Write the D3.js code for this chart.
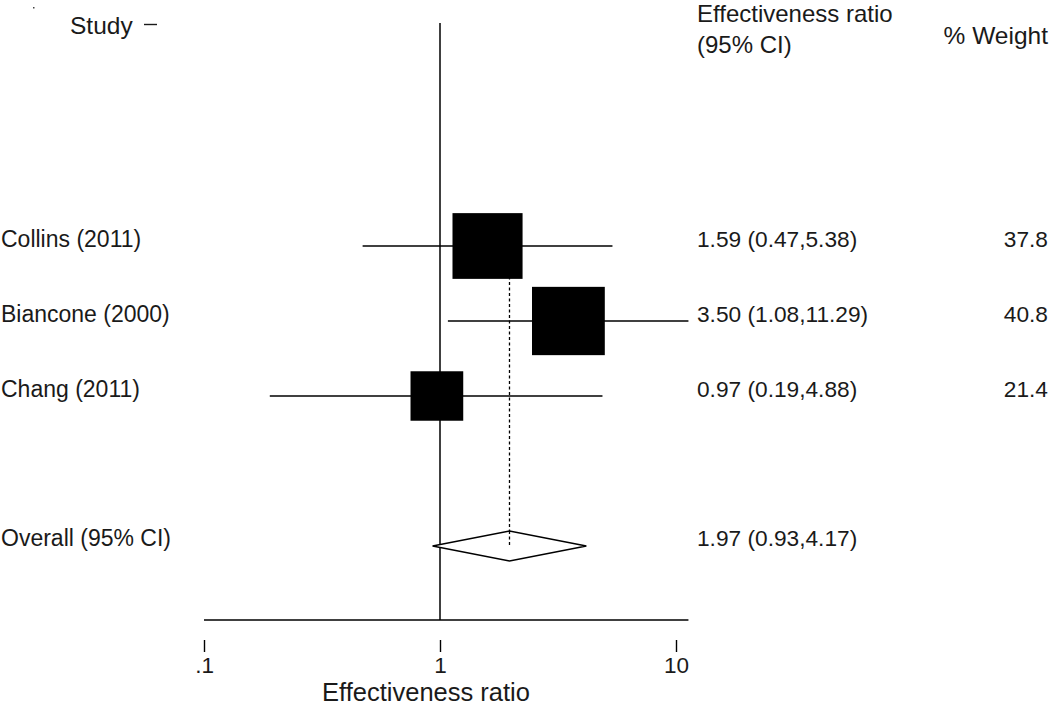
<!DOCTYPE html>
<html>
<head>
<meta charset="utf-8">
<script src="https://cdn.jsdelivr.net/npm/d3@7"></script>
<style>
  html, body { margin: 0; padding: 0; background: #fff; }
  svg { display: block; }
  text { font-family: "Liberation Sans", Arial, sans-serif; fill: #1a1a1a; }
</style>
</head>
<body>
<svg id="chart" width="1050" height="707"></svg>
<script>
// ---- data ----
const studies = ["Collins (2011)", "Biancone (2000)", "Chang (2011)"];
const estimates = [1.59, 3.50, 0.97];
const lowers = [0.47, 1.08, 0.19];
const uppers = [5.38, 11.29, 4.88];
const weights = [37.8, 40.8, 21.4];
const ciLabels = ["1.59 (0.47,5.38)", "3.50 (1.08,11.29)", "0.97 (0.19,4.88)"];
const overallLabel = "Overall (95% CI)";
const overall = { est: 1.97, lo: 0.93, hi: 4.17, text: "1.97 (0.93,4.17)" };
const tickValues = [0.1, 1, 10];
const tickLabels = [".1", "1", "10"];
const studyRows = [3, 4, 5];
const overallRow = 7;

// ---- scales ----
const svg = d3.select("#chart");
const x = d3.scaleLog().domain([0.1, 10]).range([204, 676]);
const y = d3.scaleLinear().domain([0, 1]).range([21, 96]); // 75px per row
const wScale = d3.scaleSqrt().domain([0, d3.max(weights)]).range([0, 72.8]);
const hScale = d3.scaleSqrt().domain([0, d3.max(weights)]).range([0, 68.3]);

const axisY = 620;
const textX = 697;

// tiny corner dot
svg.append("rect").attr("x", 33).attr("y", 7).attr("width", 1.5).attr("height", 1.5).attr("fill", "#444");

// headers
svg.append("text").attr("x", 70).attr("y", 34).style("font-size", "24.5px").text("Study");
svg.append("line").attr("x1", 144).attr("x2", 157).attr("y1", 24.5).attr("y2", 24.5)
  .attr("stroke", "#1a1a1a").attr("stroke-width", 1.4);
svg.append("text").attr("x", textX).attr("y", 22).style("font-size", "24px").text("Effectiveness ratio");
svg.append("text").attr("x", textX).attr("y", 53).style("font-size", "24px").text("(95% CI)");
svg.append("text").attr("x", 1048).attr("y", 44).attr("text-anchor", "end").style("font-size", "24.5px").text("% Weight");

// dashed overall line
svg.append("line")
  .attr("x1", x(overall.est)).attr("x2", x(overall.est))
  .attr("y1", y(studyRows[0]) - 30).attr("y2", y(overallRow))
  .attr("stroke", "#000").attr("stroke-width", 1.3).attr("stroke-dasharray", "3,2.5");

// null line
svg.append("line").attr("x1", x(1)).attr("x2", x(1)).attr("y1", 23).attr("y2", axisY)
  .attr("stroke", "#000").attr("stroke-width", 1.5);

// CI lines
svg.selectAll(".ci").data(studies).enter().append("line")
  .attr("x1", (d, i) => x(lowers[i])).attr("x2", (d, i) => x(uppers[i]))
  .attr("y1", (d, i) => y(studyRows[i])).attr("y2", (d, i) => y(studyRows[i]))
  .attr("stroke", "#000").attr("stroke-width", 1.4);

// weight squares
svg.selectAll(".box").data(studies).enter().append("rect")
  .attr("x", (d, i) => x(estimates[i]) - wScale(weights[i]) / 2)
  .attr("y", (d, i) => y(studyRows[i]) - hScale(weights[i]) / 2)
  .attr("width", (d, i) => wScale(weights[i]))
  .attr("height", (d, i) => hScale(weights[i]))
  .attr("fill", "#000");

// overall diamond
const oy = y(overallRow);
svg.append("path")
  .attr("d", `M${x(overall.lo)},${oy} L${x(overall.est)},${oy - 15} L${x(overall.hi)},${oy} L${x(overall.est)},${oy + 15} Z`)
  .attr("fill", "#fff").attr("stroke", "#000").attr("stroke-width", 1.3);
svg.append("line")
  .attr("x1", x(overall.est)).attr("x2", x(overall.est))
  .attr("y1", oy - 15).attr("y2", oy)
  .attr("stroke", "#000").attr("stroke-width", 1.3).attr("stroke-dasharray", "3,2.5");

// row labels
svg.selectAll(".lab").data(studies).enter().append("text")
  .attr("x", 1).attr("y", (d, i) => y(studyRows[i]) + 1)
  .style("font-size", "23px").text(d => d);
svg.selectAll(".cil").data(ciLabels).enter().append("text")
  .attr("x", textX).attr("y", (d, i) => y(studyRows[i]) + 1)
  .style("font-size", "22.7px").text(d => d);
svg.selectAll(".wl").data(weights).enter().append("text")
  .attr("x", 1048).attr("y", (d, i) => y(studyRows[i]) + 1).attr("text-anchor", "end")
  .style("font-size", "22.7px").text(d => d.toFixed(1));
svg.append("text").attr("x", 1).attr("y", oy).style("font-size", "23px").text(overallLabel);
svg.append("text").attr("x", textX).attr("y", oy).style("font-size", "22.7px").text(overall.text);

// bottom axis line
svg.append("line").attr("x1", x(0.1)).attr("x2", x(d3.max(uppers))).attr("y1", axisY).attr("y2", axisY)
  .attr("stroke", "#000").attr("stroke-width", 1.4);

// ticks
const axis = d3.axisBottom(x).tickValues(tickValues)
  .tickFormat((d, i) => tickLabels[i]).tickSize(12).tickPadding(5);
const ag = svg.append("g").attr("transform", `translate(0,640)`).call(axis);
ag.select(".domain").remove();
ag.selectAll(".tick line").attr("stroke", "#000").attr("stroke-width", 1.4);
ag.selectAll(".tick text").style("font-size", "22.5px").attr("fill", "#1a1a1a")
  .style("font-family", "'Liberation Sans', Arial, sans-serif");

// axis title
svg.append("text").attr("x", 426).attr("y", 701).attr("text-anchor", "middle")
  .style("font-size", "25.5px").text("Effectiveness ratio");
</script>
</body>
</html>
